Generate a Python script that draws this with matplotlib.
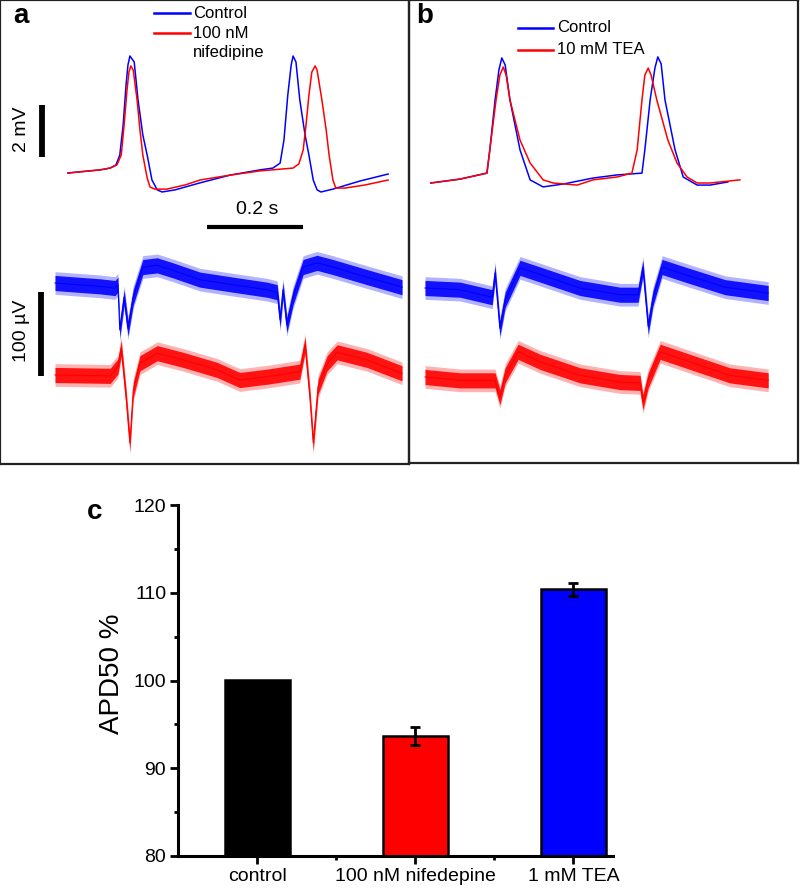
import matplotlib
matplotlib.use('Agg')
import matplotlib.pyplot as plt
from matplotlib.lines import Line2D
import numpy as np

plt.rcParams['font.family'] = ['Liberation Sans', 'DejaVu Sans']

W, H = 800, 894

# panel a, action potentials: time (ms), voltage (mV, relative to start)
a_ctrl_t = [27, 94, 115, 127, 135, 142, 148, 152, 156, 165, 173, 183, 192, 202, 213, 223, 250, 302, 365, 427,
            454, 469, 477, 485, 492, 496, 502, 510, 521, 529, 538, 546, 554, 579, 635, 694]
a_ctrl_v = [0, 0.12, 0.19, 0.31, 0.69, 1.85, 3.38, 4.15, 4.50, 4.27, 2.81, 1.46, 0.69, -0.27, -0.65, -0.73, -0.65,
            -0.38, -0.08, 0.12, 0.19, 0.38, 1.27, 3.0, 4.15, 4.50, 4.27, 2.81, 1.46, 0.69, -0.27, -0.65, -0.73,
            -0.62, -0.31, -0.04]
a_nif_t = [27, 94, 115, 129, 138, 144, 150, 154, 158, 163, 171, 177, 183, 192, 198, 208, 233, 271, 302, 365,
           427, 496, 508, 517, 523, 529, 535, 542, 546, 556, 565, 571, 579, 585, 604, 646, 694]
a_nif_v = [0, 0.12, 0.19, 0.31, 0.69, 1.85, 3.19, 3.88, 4.12, 3.96, 2.81, 1.65, 0.69, -0.19, -0.54, -0.62, -0.62,
           -0.46, -0.27, -0.08, 0.08, 0.19, 0.35, 0.88, 1.85, 3.0, 3.88, 4.12, 3.96, 2.81, 1.65, 0.69, -0.27,
           -0.58, -0.58, -0.46, -0.27]

# panel a, field potentials: time (ms), amplitude (uV)
a_ctrl_fp_t = [0, 94, 125, 131, 135, 144, 152, 163, 183, 213, 246, 302, 371, 442, 463, 469, 475, 483, 496, 517,
               546, 579, 650, 723]
a_ctrl_fp_v = [0, -4, -6, -2, -56, -17, -54, -17, 19, 21, 15, 4, -2, -8, -11, -44, -8, -50, -17, 19, 24, 19, 7, -5]
a_nif_fp_t = [0, 115, 131, 138, 148, 156, 163, 177, 213, 267, 338, 385, 442, 510, 521, 531, 538, 548, 567, 588,
              650, 723]
a_nif_fp_v = [0, -1, 10, 32, -26, -81, -18, 14, 26, 18, 6, -6, -2, 4, 36, -26, -81, -14, 14, 27, 18, 2]

# panel b, action potentials
b_ctrl_t = [12, 73, 129, 135, 146, 154, 160, 167, 177, 198, 219, 246, 288, 350, 400, 452, 458, 469, 479, 485,
            492, 500, 521, 538, 567, 594, 631]
b_ctrl_v = [0, 0.15, 0.38, 1.27, 3.19, 4.35, 4.81, 4.54, 3.19, 1.27, 0.12, -0.15, -0.04, 0.19, 0.31, 0.38, 1.27,
            3.19, 4.42, 4.85, 4.58, 3.19, 1.27, 0.23, -0.08, -0.08, 0.04]
b_tea_t = [12, 73, 129, 135, 148, 156, 163, 169, 177, 198, 219, 246, 267, 317, 350, 400, 431, 442, 452, 458,
           465, 471, 483, 506, 525, 546, 567, 594, 656]
b_tea_v = [0, 0.15, 0.38, 1.27, 3.19, 4.15, 4.46, 4.15, 3.19, 1.65, 0.77, 0.12, 0, -0.08, 0.12, 0.23, 0.38, 1.27,
           3.19, 4.15, 4.42, 4.15, 3.19, 1.65, 0.77, 0.23, 0, 0, 0.12]

# panel b, field potentials
b_ctrl_fp_t = [0, 73, 140, 146, 156, 167, 198, 240, 323, 406, 444, 454, 465, 475, 494, 542, 625, 715]
b_ctrl_fp_v = [0, -2, -11, 18, -48, -14, 24, 16, 0, -8, -8, 24, -46, -12, 25, 16, 1, -6]
b_tea_fp_t = [0, 73, 146, 156, 167, 194, 240, 323, 406, 448, 454, 465, 490, 552, 635, 715]
b_tea_fp_v = [0, -4, -4, -24, 2, 30, 18, 2, -6, -7, -30, -4, 30, 18, 2, -4]
fp_noise = 9  # half width of the noise band, uV

# panel c
groups = ['control', '100 nM nifedepine', '1 mM TEA']
apd50 = [100.1, 93.7, 110.4]
apd50_sem = [0, 1.0, 0.75]

BLUE, RED = '#0000ff', '#ff0000'
PX_MS, PX_MV, PX_UV = 0.48, 26.0, 0.84

fig = plt.figure(figsize=(W / 100, H / 100), dpi=100)


def px_axes(x0, y0, x1, y1):
    return fig.add_axes([x0 / W, 1 - y1 / H, (x1 - x0) / W, (y1 - y0) / H])


def trace_axes(box, x_org, y_org, px_per_unit):
    ax = px_axes(*box)
    ax.set_xlim((box[0] - x_org) / PX_MS, (box[2] - x_org) / PX_MS)
    ax.set_ylim((y_org - box[3]) / px_per_unit, (y_org - box[1]) / px_per_unit)
    ax.patch.set_alpha(0)
    ax.set_xticks([])
    ax.set_yticks([])
    return ax


def fig_text(x, y, s, **kw):
    fig.text(x / W, 1 - y / H, s, **kw)


def fig_line(x0, x1, y, color):
    fig.add_artist(Line2D([x0 / W, x1 / W], [1 - y / H] * 2, color=color, lw=1.8, transform=fig.transFigure))


def fp_trace(ax, t, v, offset, color):
    v = np.array(v) + offset
    ax.fill_between(t, v - fp_noise * 1.5, v + fp_noise * 1.5, color=color, alpha=0.3, lw=0)
    ax.fill_between(t, v - fp_noise, v + fp_noise, color=color, alpha=0.9, lw=0)
    ax.plot(t, v, color=color, lw=0.8)


panels = [
    # box, time origin px, AP baseline px, FP baseline px, red FP offset px, traces
    ((0, 0, 409, 464), 55, 173, 283, 92,
     (a_ctrl_t, a_ctrl_v, a_nif_t, a_nif_v), (a_ctrl_fp_t, a_ctrl_fp_v, a_nif_fp_t, a_nif_fp_v)),
    ((409, 0, 798, 463), 425, 183, 288, 89,
     (b_ctrl_t, b_ctrl_v, b_tea_t, b_tea_v), (b_ctrl_fp_t, b_ctrl_fp_v, b_tea_fp_t, b_tea_fp_v)),
]

ap_axes = []
for box, x_org, ap_y, fp_y, red_dy, ap, fp in panels:
    ax = trace_axes(box, x_org, ap_y, PX_MV)
    for sp in ax.spines.values():
        sp.set_color('#222222')
        sp.set_linewidth(1.6)
    ax.plot(ap[0], ap[1], color=BLUE, lw=1.1)
    ax.plot(ap[2], ap[3], color=RED, lw=1.1)
    ax2 = trace_axes(box, x_org, fp_y, PX_UV)
    ax2.axis('off')
    fp_trace(ax2, fp[0], fp[1], 0, BLUE)
    fp_trace(ax2, fp[2], fp[3], -red_dy / PX_UV, RED)
    ap_axes.append((ax, ax2))

# scale bars (panel a)
ax_ap, ax_fp = ap_axes[0]
ax_ap.plot([-27, -27], [(173 - 157) / PX_MV, (173 - 157) / PX_MV + 2], color='black', lw=4.2, solid_capstyle='butt')
ax_ap.plot([317, 317 + 200], [(173 - 227) / PX_MV] * 2, color='black', lw=3, solid_capstyle='butt')
ax_fp.plot([-29, -29], [(283 - 376) / PX_UV, (283 - 376) / PX_UV + 100], color='black', lw=4.2,
           solid_capstyle='butt')
fig_text(22, 129, '2 mV', rotation=90, ha='center', va='center', fontsize=14)
fig_text(257, 209, '0.2 s', ha='center', va='center', fontsize=14)
fig_text(22, 331, '100 µV', rotation=90, ha='center', va='center', fontsize=14)

# legends
fig_line(154, 190, 13, BLUE)
fig_line(154, 190, 33, RED)
fig_text(193, 13, 'Control', va='center', fontsize=12)
fig_text(193, 33, '100 nM', va='center', fontsize=12)
fig_text(193, 53, 'nifedipine', va='center', fontsize=12)
fig_line(518, 553, 28, BLUE)
fig_line(518, 553, 50, RED)
fig_text(557, 28, 'Control', va='center', fontsize=12)
fig_text(557, 50, '10 mM TEA', va='center', fontsize=12)

fig_text(21, 16, 'a', ha='center', va='center', fontsize=20, fontweight='bold')
fig_text(425, 16, 'b', ha='center', va='center', fontsize=20, fontweight='bold')
fig_text(95, 512, 'c', ha='center', va='center', fontsize=20, fontweight='bold')

# panel c bar chart
axc = px_axes(178, 505, 613, 856)
x = np.arange(len(groups))
axc.bar(x, np.array(apd50) - 80, bottom=80, width=0.41, color=['black', RED, BLUE], edgecolor='black',
        linewidth=1.8, zorder=2)
for xi, m, e in zip(x, apd50, apd50_sem):
    if e > 0:
        axc.errorbar(xi, m, yerr=e, color='black', elinewidth=2, capsize=3.8, capthick=2, zorder=3)
axc.set_ylim(80, 120)
axc.set_xlim(-0.5, 2.25)
axc.set_yticks(np.arange(80, 121, 10))
axc.set_yticks(np.arange(85, 120, 10), minor=True)
axc.set_xticks(x)
axc.set_xticks([0.5, 1.5], minor=True)
axc.set_xticklabels(groups, fontsize=14)
axc.tick_params(axis='y', labelsize=14)
axc.tick_params(which='major', length=6, width=2, pad=2.5)
axc.tick_params(which='minor', length=3, width=2)
for s in ['top', 'right']:
    axc.spines[s].set_visible(False)
for s in ['left', 'bottom']:
    axc.spines[s].set_linewidth(2.2)
axc.set_ylabel('APD50 %', fontsize=20)
axc.yaxis.set_label_coords(-0.122, 0.52)

fig.savefig('out.png', dpi=100)
